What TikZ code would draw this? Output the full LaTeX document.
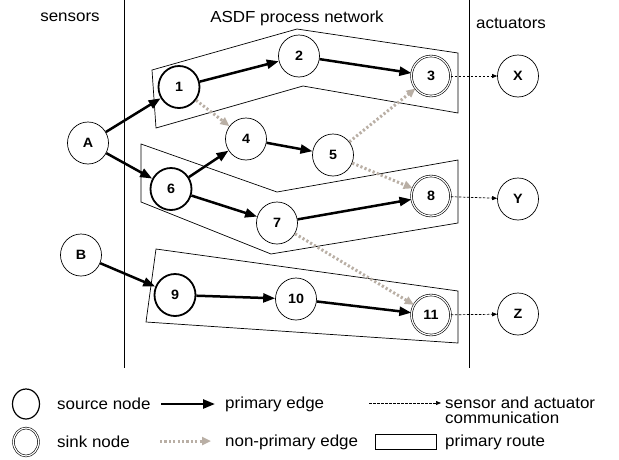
\documentclass[tikz,border=0pt]{standalone}
\usepackage{fontspec}
\setmainfont{Liberation Sans}[FakeStretch=1.06]
\usetikzlibrary{arrows.meta,shapes.geometric}
\definecolor{npgray}{RGB}{185,175,165}
\tikzset{
  nd/.style={ellipse,draw,line width=0.7pt,minimum width=41pt,minimum height=42pt,inner sep=0pt,font=\fontsize{13.5}{15}\selectfont\bfseries},
  srcnd/.style={nd,line width=1.8pt},
  sinknd/.style={nd,double,line width=0.6pt,double distance=1.2pt,minimum width=39pt,minimum height=40pt},
  pe/.style={line width=2.5pt,-{Triangle[length=12pt,width=9pt]}},
  npe/.style={line width=3pt,npgray,dash pattern=on 2.2pt off 2.2pt,-{Triangle[length=9pt,width=8pt]}},
  sae/.style={line width=0.7pt,dash pattern=on 2.5pt off 1.5pt,-{Triangle[length=5pt,width=4pt]}},
  route/.style={draw,line width=0.7pt},
  lbl/.style={font=\fontsize{16}{15}\selectfont,inner sep=0pt}
}
\begin{document}
\begin{tikzpicture}[x=1pt,y=-1pt]
\useasboundingbox (0,0) rectangle (619,459);
% column separators
\coordinate (l1) at (124,0); \coordinate (l2) at (124,368);
\coordinate (r1) at (469,0); \coordinate (r2) at (469,368);
\draw[line width=0.7pt] (l1) -- (l2);
\draw[line width=0.7pt] (r1) -- (r2);
\node[lbl] (tsens) at (70,17) {sensors};
\node[lbl] (tasdf) at (297,18) {ASDF process network};
\node[lbl] (tact) at (511,23) {actuators};
% primary routes
\draw[route] (152,70) -- (297,29) -- (458,53) -- (458,113) -- (303,86) -- (156,128) -- cycle;
\draw[route] (141,144) -- (277,192) -- (458,160) -- (458,223) -- (271,254) -- (141,202) -- cycle;
\draw[route] (156,249) -- (458,291) -- (458,343) -- (146,322) -- cycle;
% nodes
\node[nd] (A) at (88,143) {A};
\node[nd] (B) at (81,255) {B};
\node[srcnd] (n1) at (179,87) {1};
\node[nd] (n2) at (299,56) {2};
\node[sinknd] (n3) at (431,76) {3};
\node[nd] (n4) at (246,139) {4};
\node[nd] (n5) at (333,155) {5};
\node[srcnd] (n6) at (171,189) {6};
\node[nd] (n7) at (277,223) {7};
\node[sinknd] (n8) at (431,196) {8};
\node[srcnd] (n9) at (175,295) {9};
\node[nd] (n10) at (296,299) {10};
\node[sinknd] (n11) at (431,315) {11};
\node[nd] (X) at (518,76) {X};
\node[nd] (Y) at (518,199) {Y};
\node[nd] (Z) at (518,314) {Z};
% primary edges
\draw[pe] (A) -- (n1);
\draw[pe] (A) -- (n6);
\draw[pe] (n1) -- (n2);
\draw[pe] (n2) -- (n3);
\draw[pe] (n6) -- (n4);
\draw[pe] (n6) -- (n7);
\draw[pe] (n4) -- (n5);
\draw[pe] (n7) -- (n8);
\draw[pe] (B) -- (n9);
\draw[pe] (n9) -- (n10);
\draw[pe] (n10) -- (n11);
% non-primary edges
\draw[npe] (n1) -- (n4);
\draw[npe] (n5) -- (n3);
\draw[npe] (n5) -- (n8);
\draw[npe] (n7) -- (n11);
% sensor/actuator communication
\draw[sae] (n3) -- (X);
\draw[sae] (n8) -- (Y);
\draw[sae] (n11) -- (Z);
% legend
\node[ellipse,draw,line width=1.2pt,minimum width=27pt,minimum height=30pt,inner sep=0pt] (lsrc) at (26,404) {};
\node[lbl,anchor=west] (tsrc) at (57,404) {source node};
\node[ellipse,draw,double,line width=0.6pt,double distance=1.2pt,minimum width=25pt,minimum height=28pt,inner sep=0pt] (lsink) at (26,442) {};
\node[lbl,anchor=west] (tsink) at (57,442) {sink node};
\coordinate (pa1) at (161,404); \coordinate (pa2) at (215,404);
\draw[pe] (pa1) -- (pa2);
\node[lbl,anchor=west] (tpe) at (225,404) {primary edge};
\coordinate (na1) at (160,441); \coordinate (na2) at (211,441);
\draw[npe] (na1) -- (na2);
\node[lbl,anchor=west] (tnpe) at (225,442) {non-primary edge};
\coordinate (sa1) at (369,403); \coordinate (sa2) at (441,403);
\draw[sae] (sa1) -- (sa2);
\node[lbl,anchor=west,align=left] (tsae) at (445,410) {sensor and actuator\\communication};
\node[draw,line width=0.7pt,minimum width=61pt,minimum height=15pt,inner sep=0pt] (lroute) at (405.5,441.5) {};
\node[lbl,anchor=west] (troute) at (445,442) {primary route};
\end{tikzpicture}
\end{document}
